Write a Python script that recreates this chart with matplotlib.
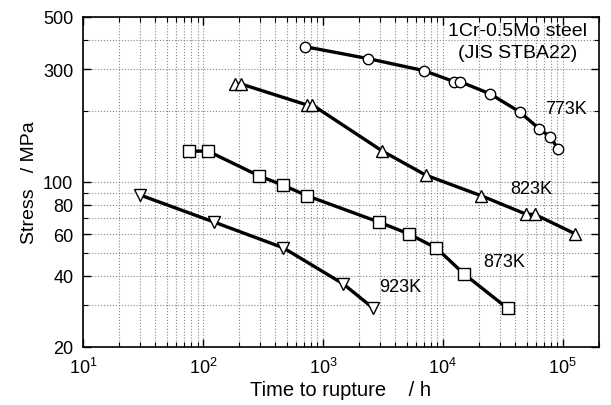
# Creep rupture curves, 1Cr-0.5Mo steel
import numpy as np
import matplotlib.pyplot as plt
from matplotlib.ticker import LogLocator, FixedLocator, NullFormatter, FixedFormatter

plt.rcParams['font.family'] = ['Liberation Sans', 'DejaVu Sans']

# data: time to rupture (h), stress (MPa)
t_773 = [708, 2370, 6950, 12400, 13860, 24800, 43800, 63500, 78900, 91400]
s_773 = [374, 333, 296, 266, 266, 236, 198, 168, 155, 138]

t_823 = [185, 207, 731, 815, 3140, 7220, 21000, 49800, 58400, 126700]
s_823 = [260, 260, 212, 212, 135, 106.8, 87.3, 72.9, 72.9, 60.3]

t_873 = [76.4, 110, 294, 467, 740, 2930, 5180, 8860, 15000, 34800]
s_873 = [135, 135, 106, 96.8, 87.3, 67.6, 60.3, 52.4, 40.8, 29.1]

t_923 = [29.9, 123.5, 467, 1476, 2625]
s_923 = [88, 67.6, 52.6, 37.0, 29.2]

temps = ['773K', '823K', '873K', '923K']
markers = ['o', '^', 's', 'v']
label_x = [1.07e5, 5.5e4, 3.27e4, 4.4e3]
label_y = [204, 94, 46, 36]

fig = plt.figure(figsize=(6.11, 4.06), dpi=100)
ax = fig.add_axes([0.136, 0.143, 0.844, 0.813])

series = [(t_773, s_773), (t_823, s_823), (t_873, s_873), (t_923, s_923)]
for (t, s), m in zip(series, markers):
    ms = 7.5 if m == 'o' else 8.5
    ax.plot(t, s, '-', color='black', lw=2.4, zorder=3)
    ax.plot(t, s, m, ms=ms, mfc='white', mec='black', mew=1.0, zorder=4)

for name, x, y in zip(temps, label_x, label_y):
    ax.text(x, y, name, fontsize=13, ha='center', va='center', zorder=5)

ax.text(0.843, 0.958, '1Cr-0.5Mo steel', transform=ax.transAxes,
        fontsize=14, ha='center', va='center')
ax.text(0.843, 0.891, '(JIS STBA22)', transform=ax.transAxes,
        fontsize=14, ha='center', va='center')

ax.set_xscale('log')
ax.set_yscale('log')
ax.set_xlim(10, 2e5)
ax.set_ylim(20, 500)

ax.xaxis.set_major_locator(LogLocator(base=10, numticks=10))
ax.xaxis.set_minor_locator(LogLocator(base=10, subs=np.arange(2, 10), numticks=20))
ax.xaxis.set_minor_formatter(NullFormatter())

y_major = [20, 40, 60, 80, 100, 300, 500]
y_minor = [30, 50, 70, 90, 200, 400]
ax.yaxis.set_major_locator(FixedLocator(y_major))
ax.yaxis.set_major_formatter(FixedFormatter([str(v) for v in y_major]))
ax.yaxis.set_minor_locator(FixedLocator(y_minor))
ax.yaxis.set_minor_formatter(NullFormatter())

ax.tick_params(which='both', direction='in', top=True, right=True, labelsize=13)
ax.tick_params(which='major', length=6, width=1)
ax.tick_params(axis='x', which='major', pad=7)
ax.tick_params(axis='y', which='major', pad=7)
ax.tick_params(which='minor', length=3.5, width=0.8)

ax.grid(True, which='both', linestyle=':', color='#888888', linewidth=0.8)
for sp in ax.spines.values():
    sp.set_linewidth(1.2)

ax.set_xlabel('Time to rupture    / h', fontsize=14.5, labelpad=2)
ax.set_ylabel('Stress   / MPa', fontsize=14, labelpad=4)

fig.savefig('out.png', dpi=100)
